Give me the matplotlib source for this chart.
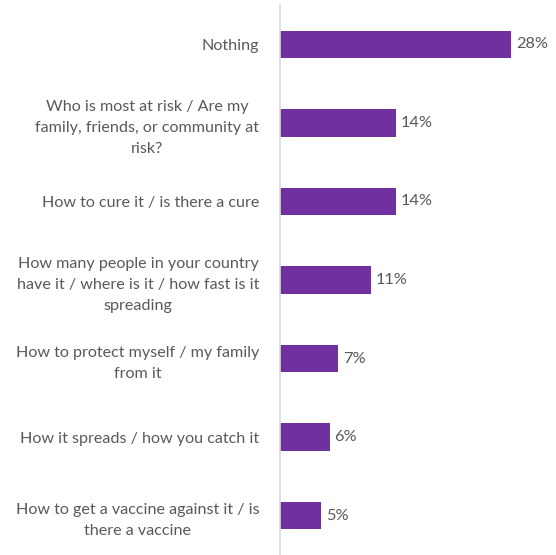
import matplotlib.pyplot as plt

plt.rcParams['font.family'] = ['Lato', 'DejaVu Sans']

questions = [
    "Nothing",
    "Who is most at risk / Are my\nfamily, friends, or community at\nrisk?",
    "How to cure it / is there a cure",
    "How many people in your country\nhave it / where is it / how fast is it\nspreading",
    "How to protect myself / my family\nfrom it",
    "How it spreads / how you catch it",
    "How to get a vaccine against it / is\nthere a vaccine",
]
shares = [28, 14, 14, 11, 7, 6, 5]

bar_color = "#7030A0"
text_color = "#595959"

fig = plt.figure(figsize=(5.56, 5.55), dpi=100)
ax = fig.add_axes([280 / 556, 0, 248 / 556, 550 / 555])

pos = list(range(len(questions)))
ax.barh(pos, shares, height=0.35, color=bar_color)
ax.set_ylim(len(questions) - 0.5, -0.5)
ax.set_xlim(0, 30)

for y, v in zip(pos, shares):
    ax.annotate(f"{v}%", (v, y), xytext=(5, 0), textcoords="offset pixels",
                va="center", ha="left", fontsize=11.8, color=text_color)

ax.set_yticks(pos)
ax.set_yticklabels(questions, fontsize=11.6, color=text_color,
                   multialignment="center", linespacing=1.65)
ax.tick_params(axis="y", length=0, pad=15)
ax.set_xticks([])

for side in ["top", "right", "bottom"]:
    ax.spines[side].set_visible(False)
ax.spines["left"].set_color("#D9D9D9")
ax.spines["left"].set_linewidth(1.2)

fig.savefig("out.png", dpi=100)
